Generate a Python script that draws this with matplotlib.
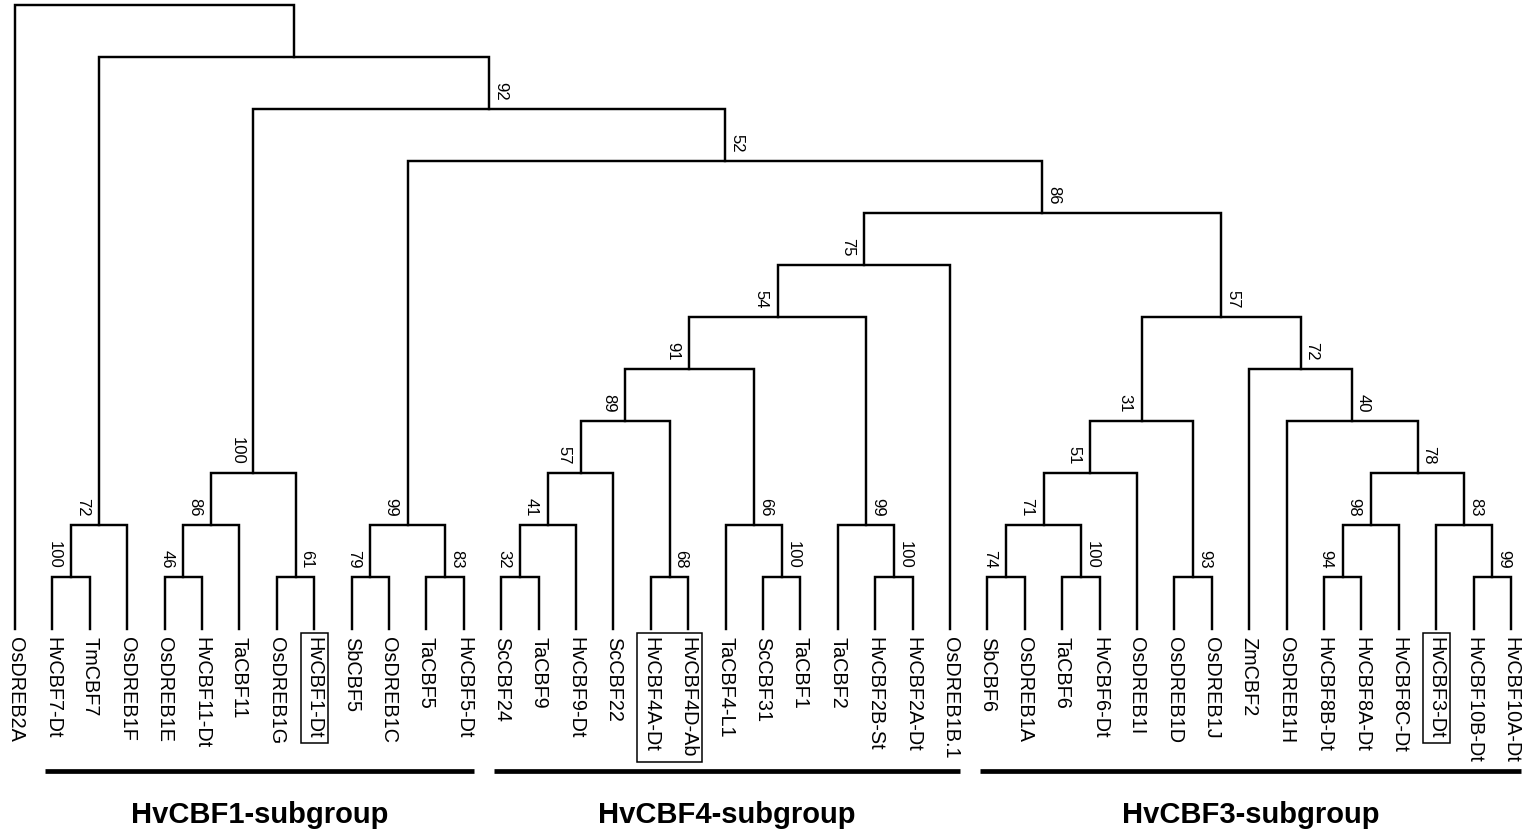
import matplotlib
matplotlib.use("Agg")
import matplotlib.pyplot as plt
from matplotlib.patches import Rectangle
from matplotlib.transforms import Bbox, blended_transform_factory

plt.rcParams['font.family'] = ['Liberation Sans', 'DejaVu Sans']

# ---------------- data ----------------
leaves = ["OsDREB2A", "HvCBF7-Dt", "TmCBF7", "OsDREB1F", "OsDREB1E", "HvCBF11-Dt",
          "TaCBF11", "OsDREB1G", "HvCBF1-Dt", "SbCBF5", "OsDREB1C", "TaCBF5",
          "HvCBF5-Dt", "ScCBF24", "TaCBF9", "HvCBF9-Dt", "ScCBF22", "HvCBF4A-Dt",
          "HvCBF4D-Ab", "TaCBF4-L1", "ScCBF31", "TaCBF1", "TaCBF2", "HvCBF2B-St",
          "HvCBF2A-Dt", "OsDREB1B.1", "SbCBF6", "OsDREB1A", "TaCBF6", "HvCBF6-Dt",
          "OsDREB1I", "OsDREB1D", "OsDREB1J", "ZmCBF2", "OsDREB1H", "HvCBF8B-Dt",
          "HvCBF8A-Dt", "HvCBF8C-Dt", "HvCBF3-Dt", "HvCBF10B-Dt", "HvCBF10A-Dt"]

# internal nodes (children before parents)
node_names = ["c7", "g7", "c46", "c86a", "c61", "g1", "c79", "c83a", "g5",
              "c32", "c41", "c57a", "c68", "c89", "c100a", "c66", "c91",
              "c100b", "c99a", "c54", "g4", "c74", "c100c", "c71", "c51",
              "c93", "c31", "c94", "c98", "c99b", "c83b", "c78", "c40", "c72",
              "g3", "c86b", "c52", "c92", "cin", "root"]
node_left = ["HvCBF7-Dt", "c7", "OsDREB1E", "c46", "OsDREB1G", "c86a", "SbCBF5",
             "TaCBF5", "c79", "ScCBF24", "c32", "c41", "HvCBF4A-Dt", "c57a",
             "ScCBF31", "TaCBF4-L1", "c89", "HvCBF2B-St", "TaCBF2", "c91", "c54",
             "SbCBF6", "TaCBF6", "c74", "c71", "OsDREB1D", "c51", "HvCBF8B-Dt",
             "c94", "HvCBF10B-Dt", "HvCBF3-Dt", "c98", "OsDREB1H", "ZmCBF2",
             "c31", "g4", "g5", "g1", "g7", "OsDREB2A"]
node_right = ["TmCBF7", "OsDREB1F", "HvCBF11-Dt", "TaCBF11", "HvCBF1-Dt", "c61",
              "OsDREB1C", "HvCBF5-Dt", "c83a", "TaCBF9", "HvCBF9-Dt", "ScCBF22",
              "HvCBF4D-Ab", "c68", "TaCBF1", "c100a", "c66", "HvCBF2A-Dt",
              "c100b", "c99a", "OsDREB1B.1", "OsDREB1A", "HvCBF6-Dt", "c100c",
              "OsDREB1I", "OsDREB1J", "c93", "HvCBF8A-Dt", "HvCBF8C-Dt",
              "HvCBF10A-Dt", "c99b", "c83b", "c78", "c40", "c72", "g3", "c86b",
              "c52", "c92", "cin"]
node_support = [100, 72, 46, 86, 61, 100, 79, 83, 99,
                32, 41, 57, 68, 89, 100, 66, 91,
                100, 99, 54, 75, 74, 100, 71, 51,
                93, 31, 94, 98, 99, 83, 78, 40, 72,
                57, 86, 52, 92, None, None]

boxed = [["HvCBF1-Dt"], ["HvCBF4A-Dt", "HvCBF4D-Ab"], ["HvCBF3-Dt"]]

groups = ["HvCBF1-subgroup", "HvCBF4-subgroup", "HvCBF3-subgroup"]
group_first = ["HvCBF7-Dt", "ScCBF24", "SbCBF6"]
group_last = ["HvCBF5-Dt", "OsDREB1B.1", "HvCBF10A-Dt"]

# ---------------- layout ----------------
W, H, DPI = 1533, 836, 100
fig = plt.figure(figsize=(W / DPI, H / DPI), dpi=DPI)
ax = fig.add_axes([0, 0, 1, 1])
ax.set_axis_off()
leaf_px0, leaf_step = 15.0, 37.4
base_px, lvl_step = 629.0, 52.0
ax.set_xlim(-leaf_px0 / leaf_step, (W - leaf_px0) / leaf_step)
ax.set_ylim(-(H - base_px) / lvl_step, base_px / lvl_step)

PT = 72.0 / DPI  # points per pixel
LW = 1.75

xpos = {name: float(i) for i, name in enumerate(leaves)}
ypos = {name: 0.0 for name in leaves}
parent_side = {}
for n, l, r in zip(node_names, node_left, node_right):
    xpos[n] = (xpos[l] + xpos[r]) / 2
    ypos[n] = max(ypos[l], ypos[r]) + 1
    parent_side[l] = "left"
    parent_side[r] = "right"

for n, l, r in zip(node_names, node_left, node_right):
    ax.plot([xpos[l], xpos[l], xpos[r], xpos[r]],
            [ypos[l], ypos[n], ypos[n], ypos[r]],
            color="black", lw=LW, solid_joinstyle="miter",
            solid_capstyle="projecting", clip_on=False)

for n, s in zip(node_names, node_support):
    if s is None:
        continue
    side = parent_side.get(n, "left")
    if side == "left":
        dx, ha = -9.0 * PT, "right"
    else:
        dx, ha = 4.0 * PT, "left"
    ax.annotate(str(s), xy=(xpos[n], ypos[n]), xytext=(dx, 8 * PT),
                textcoords="offset points", rotation=270, ha=ha, va="bottom",
                fontsize=12, rotation_mode="default")

label_artists = {}
for i, name in enumerate(leaves):
    t = ax.annotate(name, xy=(i, 0), xytext=(0, -8 * PT),
                    textcoords="offset points", rotation=270, ha="center",
                    va="top", fontsize=14.3)
    label_artists[name] = t

bt = blended_transform_factory(ax.transData, ax.transAxes)
bar_y = (H - 771) / H
lab_y = (H - 823) / H
for g, f, l in zip(groups, group_first, group_last):
    x0 = leaves.index(f) - 0.2
    x1 = leaves.index(l) + 0.28
    ax.plot([x0, x1], [bar_y, bar_y], transform=bt, color="black", lw=3.4,
            solid_capstyle="butt", clip_on=False)
    ax.text((x0 + x1) / 2, lab_y, g, transform=bt, ha="center", va="baseline",
            fontsize=21, fontweight="bold")

fig.canvas.draw()
renderer = fig.canvas.get_renderer()
inv = fig.transFigure.inverted()
for grp in boxed:
    bb = Bbox.union([label_artists[n].get_window_extent(renderer) for n in grp])
    padx, pady = 4.0, 4.0
    (fx0, fy0) = inv.transform((bb.x0 - padx, bb.y0 - pady))
    (fx1, fy1) = inv.transform((bb.x1 + padx, bb.y1 + pady))
    fig.add_artist(Rectangle((fx0, fy0), fx1 - fx0, fy1 - fy0, fill=False,
                             edgecolor="black", lw=1.1, transform=fig.transFigure))

fig.savefig("out.png", dpi=DPI, facecolor="white")
